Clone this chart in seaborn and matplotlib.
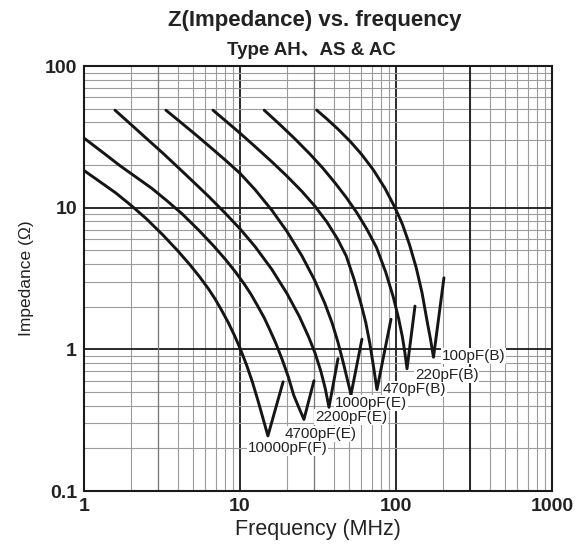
import numpy as np
import pandas as pd
import seaborn as sns
import matplotlib.pyplot as plt
from matplotlib.ticker import LogLocator, NullFormatter

# impedance curves (MHz, ohm)
freq_10000 = [1.0, 1.25, 1.6, 2.0, 2.5, 3.2, 4.0, 4.78, 5.5, 6.3, 6.92, 7.6, 8.4, 9.2,
              10.0, 11.0, 12.0, 13.0, 14.0, 15.1, 18.9]
z_10000 = [18.3, 15.4, 12.7, 10.4, 8.39, 6.43, 4.95, 3.95, 3.26, 2.66, 2.27, 1.90, 1.55, 1.26,
           1.02, 0.78, 0.59, 0.44, 0.33, 0.245, 0.59]

freq_4700 = [1.0, 1.35, 1.7, 2.13, 2.72, 3.4, 4.25, 5.44, 6.8, 8.13, 9.35, 10.7, 11.76, 12.9,
             14.3, 15.6, 17.0, 18.7, 20.4, 22.1, 23.8, 25.7, 29.8]
z_4700 = [31.0, 24.1, 19.8, 16.6, 13.7, 11.2, 9.06, 6.94, 5.35, 4.27, 3.52, 2.87, 2.45, 2.05,
          1.67, 1.36, 1.10, 0.84, 0.64, 0.475, 0.39, 0.32, 0.60]

freq_2200 = [1.58, 2.0, 2.5, 3.2, 4.0, 5.0, 6.3, 8.0, 10.0, 12.5, 16.0, 20.0, 24.0, 27.5,
             30.3, 33.0, 35.2, 37.2, 42.5]
z_2200 = [48.8, 38.7, 31.0, 24.3, 19.3, 15.3, 12.0, 9.2, 7.1, 5.31, 3.67, 2.48, 1.71, 1.23,
          0.94, 0.70, 0.53, 0.39, 0.86]

freq_1000 = [3.35, 4.2, 5.3, 6.6, 8.2, 10.0, 12.5, 16.0, 20.0, 25.0, 30.0, 35.0, 39.0, 42.5,
             46.0, 49.0, 51.5, 60.5]
z_1000 = [48.8, 39.8, 32.2, 26.2, 21.3, 17.5, 13.4, 9.6, 6.8, 4.55, 3.10, 2.11, 1.53, 1.12,
          0.80, 0.60, 0.48, 1.18]

freq_470 = [6.71, 8.2, 10.0, 12.5, 16.0, 20.0, 25.0, 30.0, 36.0, 42.0, 48.0, 54.0, 60.0, 64.0,
            68.0, 72.0, 75.5, 92.9]
z_470 = [48.8, 40.5, 33.6, 27.0, 21.1, 16.7, 13.0, 10.35, 7.95, 6.07, 4.56, 3.1, 2.05, 1.55,
         1.1, 0.74, 0.52, 1.63]

freq_220 = [14.3, 18.0, 22.5, 28.0, 34.0, 41.0, 48.3, 56.0, 65.0, 75.0, 86.0, 96.0, 104.0,
            110.0, 114.0, 117.7, 132.4]
z_220 = [48.8, 38.7, 30.6, 24.0, 19.0, 14.8, 11.7, 9.25, 7.06, 5.24, 3.5, 2.35, 1.65,
         1.22, 0.95, 0.73, 2.02]

freq_100 = [31.0, 36.0, 42.0, 50.7, 60.0, 71.6, 85.0, 98.6, 110.0, 122.0, 135.0, 147.0, 158.0,
            166.0, 174.0, 203.0]
z_100 = [48.9, 42.4, 36.3, 29.5, 23.9, 18.5, 13.7, 10.0, 7.64, 5.5, 3.75, 2.5, 1.6,
         1.2, 0.88, 3.2]

cap_labels = ["10000pF(F)", "4700pF(E)", "2200pF(E)", "1000pF(E)",
              "470pF(B)", "220pF(B)", "100pF(B)"]

curves = [(freq_10000, z_10000), (freq_4700, z_4700), (freq_2200, z_2200),
          (freq_1000, z_1000), (freq_470, z_470), (freq_220, z_220),
          (freq_100, z_100)]

rows = []
for lab, (fs, zs) in zip(cap_labels, curves):
    for f, z in zip(fs, zs):
        rows.append((lab, f, z))
df = pd.DataFrame(rows, columns=["cap", "freq", "z"])

# where the curve names sit (left edge of text)
label_pos = [(11.2, 0.20), (19.4, 0.253), (30.3, 0.333), (40.6, 0.419),
             (82.6, 0.526), (132.4, 0.66), (197, 0.90)]

sns.set_style("white")
plt.rcParams['font.family'] = ['Liberation Sans', 'Noto Sans CJK SC', 'DejaVu Sans']

fig = plt.figure(figsize=(5.82, 5.48), dpi=100)
ax = fig.add_axes([0.1443, 0.104, 0.8041, 0.7755])
ax.set_xscale("log")
ax.set_yscale("log")

sns.lineplot(data=df, x="freq", y="z", hue="cap", hue_order=cap_labels,
             palette=["#151515"] * len(cap_labels), estimator=None, sort=False,
             legend=False, lw=2.1, ax=ax, zorder=3)

ax.set_xlim(1, 1000)
ax.set_ylim(0.1, 100)
ax.set_xticks([1, 10, 100, 1000], ["1", "10", "100", "1000"])
ax.set_yticks([0.1, 1, 10, 100], ["0.1", "1", "10", "100"])
ax.xaxis.set_minor_locator(LogLocator(base=10, subs=np.arange(2, 10)))
ax.yaxis.set_minor_locator(LogLocator(base=10, subs=np.arange(2, 10)))
ax.xaxis.set_minor_formatter(NullFormatter())
ax.yaxis.set_minor_formatter(NullFormatter())

ax.set_axisbelow(True)
ax.grid(which="major", color="#1a1a1a", lw=1.3)
ax.grid(which="minor", color="#9c9c9c", lw=0.8)
for xv in [3, 30]:
    ax.axvline(xv, color="#7a7a7a", lw=0.9, zorder=1)
ax.axvline(300, color="#1a1a1a", lw=1.3, zorder=1)

for s in ax.spines.values():
    s.set_color("#1a1a1a")
    s.set_linewidth(1.5)

ax.tick_params(which="both", length=0, pad=5, labelsize=14, labelcolor="#222222")
for t in ax.get_xticklabels() + ax.get_yticklabels():
    t.set_fontweight("bold")

for lab, (fx, fy) in zip(cap_labels, label_pos):
    ax.text(fx, fy, lab, ha="left", va="center", fontsize=11, color="#222222",
            zorder=4, bbox=dict(facecolor="white", edgecolor="none", pad=0.6))

ax.set_xlabel("Frequency (MHz)", fontsize=15.5, color="#222222", labelpad=3)
ax.set_ylabel("Impedance (Ω)", fontsize=12.5, color="#222222", labelpad=8)

fig.text(0.54, 0.9635, "Z(Impedance) vs. frequency", ha="center", va="center",
         fontsize=16, fontweight="bold", color="#222222")
fig.text(0.535, 0.907, "Type AH、AS & AC", ha="center", va="center",
         fontsize=13.5, fontweight="bold", color="#222222")

fig.savefig("out.png", dpi=100, facecolor="white")
